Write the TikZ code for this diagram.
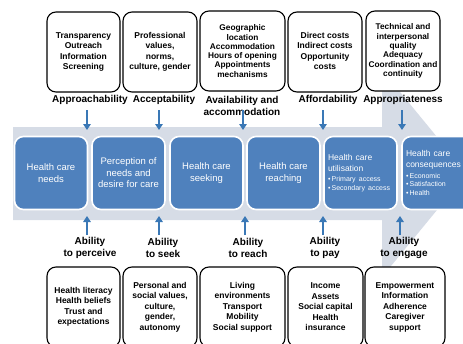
\documentclass[tikz,border=0pt]{standalone}
\usepackage{fontspec}
\setmainfont{Liberation Sans}
\usetikzlibrary{arrows.meta}
\definecolor{band}{HTML}{D6DCE6}
\definecolor{boxblue}{HTML}{4F81BD}
\definecolor{arrblue}{HTML}{3A78B6}

\begin{document}
\begin{tikzpicture}[x=1pt,y=-1pt]
  \tikzset{ top/.style={draw=black,line width=1.1pt,rounded corners=9pt,fill=white,minimum height=80pt,inner sep=1pt,align=center,font=\fontsize{8.5}{10.5}\selectfont\bfseries},
  blu/.style={draw=white,line width=1.6pt,rounded corners=9pt,fill=boxblue,minimum width=73pt,minimum height=73pt,inner sep=3pt,text=white,align=center,font=\fontsize{9.5}{11.5}\selectfont},
  lab/.style={align=center,font=\fontsize{10}{12}\selectfont\bfseries},
  arr/.style={arrblue,line width=2pt,-{Triangle[length=6pt,width=7.5pt]}},
  }
  \useasboundingbox (0,0) rectangle (463,343);
  \clip (0,0) rectangle (463,343);

  % the big arrow behind the steps
  \fill[band] (13,127) -- (382,127) -- (382,70) -- (467,173.5) -- (382,277) -- (382,220) -- (13,220) -- cycle;

  % the steps of access
  \node[blu] (b1) at (51,173) {Health care\\needs};
  \node[blu] (b2) at (128.5,173) {Perception of\\needs and\\desire for care};
  \node[blu] (b3) at (206.5,173) {Health care\\seeking};
  \node[blu] (b4) at (283.5,173) {Health care\\reaching};
  \node[blu,text width=65pt,align=left,inner xsep=4pt] (b5) at (360.5,173) {{\fontsize{8.5}{11}\selectfont Health care\\utilisation\par}\vspace{2pt}{\fontsize{7}{8.5}\selectfont •\,Primary access\\•\,Secondary access\par}};
  \node[blu,text width=65pt,align=left,inner xsep=4pt] (b6) at (438.5,173) {{\fontsize{8.5}{11}\selectfont Health care\\consequences\par}\vspace{2pt}{\fontsize{7}{8.5}\selectfont •\,Economic\\•\,Satisfaction\\•\,Health\par}};

  % the boxes above
  \node[top,minimum width=73pt] (t1) at (83.5,52) {Transparency\\Outreach\\Information\\Screening};
  \node[top,minimum width=74pt] (t2) at (160,52) {Professional\\values,\\norms,\\culture, gender};
  \node[top,minimum width=85pt,font=\fontsize{8.3}{9.3}\selectfont\bfseries] (t3) at (242.5,51) {Geographic\\location\\Accommodation\\Hours of opening\\Appointments\\mechanisms};
  \node[top,minimum width=74pt] (t4) at (325,52) {\raisebox{5pt}{\begin{tabular}{@{}c@{}}Direct costs\\Indirect costs\\Opportunity\\costs\end{tabular}}};
  \node[top,minimum width=74pt,font=\fontsize{8.3}{9.3}\selectfont\bfseries] (t5) at (403,51) {Technical and\\interpersonal\\quality\\Adequacy\\Coordination and\\continuity};

  \node[lab] (a1) at (90,100) {Approachability};
  \node[lab] (a2) at (164,100) {Acceptability};
  \node[lab] (a3) at (242,106) {Availability and\\accommodation};
  \node[lab] (a4) at (328,100) {Affordability};
  \node[lab] (a5) at (403,100) {Appropriateness};

  % the boxes below
  \node[lab] (c1) at (90,248) {Ability\\to perceive};
  \node[lab] (c2) at (163,248) {Ability\\to seek};
  \node[lab] (c3) at (248,248) {Ability\\to reach};
  \node[lab] (c4) at (325,248) {Ability\\to pay};
  \node[lab] (c5) at (404,248) {Ability\\to engage};

  \node[top,minimum width=73pt] (s1) at (83.5,307) {Health literacy\\Health beliefs\\Trust and\\expectations};
  \node[top,minimum width=74pt] (s2) at (160,307) {Personal and\\social values,\\culture,\\gender,\\autonomy};
  \node[top,minimum width=85pt] (s3) at (242.5,307) {Living\\environments\\Transport\\Mobility\\Social support};
  \node[top,minimum width=75pt] (s4) at (325.5,307) {Income\\Assets\\Social capital\\Health\\insurance};
  \node[top,minimum width=80pt] (s5) at (405,307) {Empowerment\\Information\\Adherence\\Caregiver\\support};

  % the small arrows onto the band
  \coordinate (u1) at (87,110);  \coordinate (v1) at (87,130);
  \coordinate (u2) at (159,110); \coordinate (v2) at (159,130);
  \coordinate (u3) at (243,110); \coordinate (v3) at (243,130);
  \coordinate (u4) at (323,110); \coordinate (v4) at (323,130);
  \coordinate (u5) at (402,110); \coordinate (v5) at (402,130);
  \draw[arr] (u1) -- (v1);
  \draw[arr] (u2) -- (v2);
  \draw[arr] (u3) -- (v3);
  \draw[arr] (u4) -- (v4);
  \draw[arr] (u5) -- (v5);

  \coordinate (w1) at (87,235);  \coordinate (z1) at (87,216);
  \coordinate (w2) at (159,235); \coordinate (z2) at (159,216);
  \coordinate (w3) at (245,235); \coordinate (z3) at (245,216);
  \coordinate (w4) at (323,235); \coordinate (z4) at (323,216);
  \coordinate (w5) at (400,235); \coordinate (z5) at (400,216);
  \draw[arr] (w1) -- (z1);
  \draw[arr] (w2) -- (z2);
  \draw[arr] (w3) -- (z3);
  \draw[arr] (w4) -- (z4);
  \draw[arr] (w5) -- (z5);
\end{tikzpicture}
\end{document}
